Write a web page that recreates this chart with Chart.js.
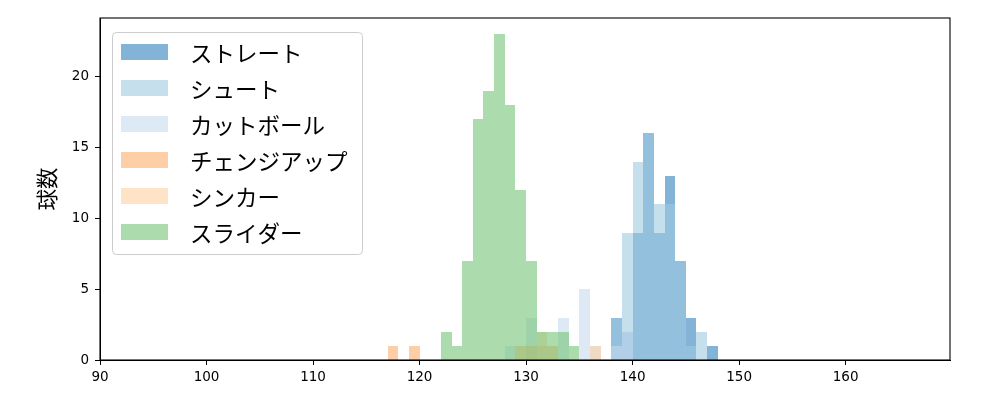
<!DOCTYPE html>
<html>
<head>
<meta charset="utf-8">
<script src="https://cdn.jsdelivr.net/npm/chart.js@4/dist/chart.umd.min.js"></script>
<style>
  html, body { margin: 0; padding: 0; background: #fff; }
  #wrap { width: 1000px; height: 400px; }
</style>
</head>
<body>
<div id="wrap"><canvas id="chart" width="1000" height="400"></canvas></div>
<script>
// 球種ごとの球速ヒストグラム (1km/h 刻み、ビンの左端と球数)
const pitchTypes = ['ストレート', 'シュート', 'カットボール', 'チェンジアップ', 'シンカー', 'スライダー'];
const pitchColors = ['#3182bd', '#9ecae1', '#c6dbef', '#fdae6b', '#fdd0a2', '#74c476'];

const straightBins = [138, 139, 140, 141, 142, 143, 144, 145, 147];
const straightCounts = [3, 2, 9, 16, 9, 13, 7, 3, 1];

const shootBins = [138, 139, 140, 141, 142, 143, 144, 145, 146];
const shootCounts = [3, 9, 14, 16, 11, 11, 7, 1, 2];

const cutterBins = [128, 130, 133, 135, 136, 138, 139];
const cutterCounts = [1, 3, 3, 5, 1, 1, 2];

const changeupBins = [117, 119, 129, 130, 131, 132];
const changeupCounts = [1, 1, 1, 1, 1, 1];

const sinkerBins = [131, 136];
const sinkerCounts = [2, 1];

const sliderBins = [122, 123, 124, 125, 126, 127, 128, 129, 130, 131, 132, 133, 134];
const sliderCounts = [2, 1, 7, 17, 19, 23, 18, 12, 7, 2, 2, 2, 1];

const xTickValues = [90, 100, 110, 120, 130, 140, 150, 160];
const yTickValues = [0, 5, 10, 15, 20];
const yLabel = '球数';

const seriesBins = [straightBins, shootBins, cutterBins, changeupBins, sinkerBins, sliderBins];
const seriesCounts = [straightCounts, shootCounts, cutterCounts, changeupCounts, sinkerCounts, sliderCounts];

const jpFont = '"Noto Sans CJK JP", "Noto Sans", sans-serif';
const numFont = '"DejaVu Sans", sans-serif';

// hex -> rgba (alpha 0.6 の半透明)
function withAlpha(hex, a) {
  const n = parseInt(hex.slice(1), 16);
  return `rgba(${(n >> 16) & 255}, ${(n >> 8) & 255}, ${n & 255}, ${a})`;
}

const datasets = pitchTypes.map((name, i) => ({
  label: name,
  data: seriesBins[i].map((b, j) => ({ x: b + 0.5, y: seriesCounts[i][j] })),
  backgroundColor: withAlpha(pitchColors[i], 0.6),
  // 後の系列を上に重ねる (matplotlib と同じ描画順)
  order: pitchTypes.length - i
}));

// 棒の端をピクセルに揃えて、隣り合う棒の間の細い隙間を消す
const snapPlugin = {
  id: 'snap',
  afterDatasetsUpdate(chart) {
    chart.getSortedVisibleDatasetMetas().forEach(meta => {
      meta.data.forEach(el => {
        const left = Math.round(el.x - el.width / 2);
        const right = Math.round(el.x + el.width / 2);
        el.x = (left + right) / 2;
        el.width = right - left;
        el.y = Math.round(el.y);
        el.base = Math.round(el.base);
      });
    });
  }
};

// 枠線と凡例を描くプラグイン
const framePlugin = {
  id: 'frame',
  afterDraw(chart) {
    const { ctx, chartArea: a } = chart;
    ctx.save();

    // 軸の枠
    ctx.strokeStyle = '#000';
    ctx.lineWidth = 1.1;
    ctx.strokeRect(a.left, a.top, a.right - a.left, a.bottom - a.top);

    // 凡例の枠
    const fx = a.left + 12.5, fy = a.top + 14.5, fw = 250, fh = 222, r = 4;
    ctx.beginPath();
    ctx.roundRect(fx, fy, fw, fh, r);
    ctx.fillStyle = 'rgba(255,255,255,0.8)';
    ctx.fill();
    ctx.strokeStyle = '#cccccc';
    ctx.lineWidth = 1;
    ctx.stroke();

    // 凡例の項目
    ctx.font = `22.5px ${jpFont}`;
    ctx.textBaseline = 'middle';
    ctx.textAlign = 'left';
    chart.data.datasets.forEach((ds, i) => {
      const cy = a.top + 34 + i * 36;
      ctx.fillStyle = ds.backgroundColor;
      ctx.fillRect(a.left + 21, cy - 8, 47, 16);
      ctx.fillStyle = '#000';
      ctx.fillText(ds.label, a.left + 90, cy + 1);
    });

    ctx.restore();
  }
};

new Chart(document.getElementById('chart'), {
  type: 'bar',
  data: { datasets },
  options: {
    responsive: false,
    animation: false,
    layout: { padding: { left: 0, right: 50, top: 18, bottom: 0 } },
    datasets: {
      bar: {
        grouped: false,
        barPercentage: 1,
        categoryPercentage: 1,
        borderWidth: 0,
        inflateAmount: 0
      }
    },
    plugins: {
      legend: { display: false },
      tooltip: { enabled: false }
    },
    scales: {
      x: {
        type: 'linear',
        offset: false,
        min: 90,
        max: 169.8,
        afterFit: (scale) => { scale.height = 40; },
        afterBuildTicks: (scale) => { scale.ticks = xTickValues.map(v => ({ value: v })); },
        ticks: {
          color: '#000',
          font: { family: numFont, size: 13.5 },
          padding: 4,
          maxRotation: 0
        },
        grid: { offset: false, drawOnChartArea: false, drawTicks: true, tickLength: 5, color: '#000' },
        border: { display: true, color: '#000', width: 1 }
      },
      y: {
        min: 0,
        max: 24.15,
        afterFit: (scale) => { scale.width = 100; },
        afterBuildTicks: (scale) => { scale.ticks = yTickValues.map(v => ({ value: v })); },
        ticks: {
          color: '#000',
          font: { family: numFont, size: 13.5 },
          padding: 6
        },
        grid: { drawOnChartArea: false, drawTicks: true, tickLength: 5, color: '#000' },
        border: { display: true, color: '#000', width: 1 },
        title: {
          display: true,
          text: yLabel,
          color: '#000',
          font: { family: jpFont, size: 21.5 },
          padding: { top: 34, bottom: 0 }
        }
      }
    }
  },
  plugins: [snapPlugin, framePlugin]
});
</script>
</body>
</html>
